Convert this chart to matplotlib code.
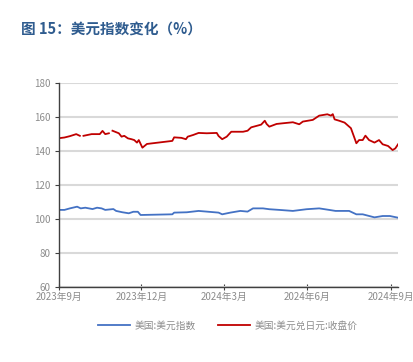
import matplotlib
matplotlib.use("Agg")
import matplotlib.pyplot as plt
import numpy as np
import pandas as pd

plt.rcParams['font.family'] = ['Noto Sans CJK SC', 'DejaVu Sans']

# 美元兑日元 (NaN = missing points, drawn as gaps)
jpy_dates = ['2023-09-01', '2023-09-07', '2023-09-13', '2023-09-20', '2023-09-24', '2023-09-26',
             '2023-09-28', '2023-10-07', '2023-10-16', '2023-10-19', '2023-10-22', '2023-10-26',
             '2023-10-28', '2023-10-30', '2023-11-06', '2023-11-09', '2023-11-12', '2023-11-16',
             '2023-11-20', '2023-11-23', '2023-11-26', '2023-11-28', '2023-12-02', '2023-12-07',
             '2024-01-04', '2024-01-06', '2024-01-14', '2024-01-19', '2024-01-21', '2024-01-27',
             '2024-02-02', '2024-02-11', '2024-02-22', '2024-02-24', '2024-02-28', '2024-03-04',
             '2024-03-09', '2024-03-22', '2024-03-27', '2024-03-31', '2024-04-11', '2024-04-15',
             '2024-04-17', '2024-04-20', '2024-04-28', '2024-05-05', '2024-05-16', '2024-05-23',
             '2024-05-27', '2024-06-07', '2024-06-14', '2024-06-23', '2024-06-27', '2024-06-29',
             '2024-07-01', '2024-07-06', '2024-07-12', '2024-07-19', '2024-07-23', '2024-07-25',
             '2024-07-28', '2024-08-01', '2024-08-04', '2024-08-08', '2024-08-14', '2024-08-19',
             '2024-08-23', '2024-08-29', '2024-09-03', '2024-09-06', '2024-09-09']
jpy_vals = [147.6, 148.0, 148.8, 150.0, 149.0, np.nan,
            149.0, 150.0, 150.0, 151.9, 150.0, 150.5,
            np.nan, 152.0, 150.5, 148.5, 149.0, 147.5,
            147.0, 146.5, 145.0, 146.5, 142.0, 144.2,
            146.0, 148.1, 147.8, 147.0, 148.5, 149.5,
            150.7, 150.5, 150.7, 148.9, 147.0, 148.5,
            151.4, 151.4, 152.0, 154.0, 155.6, 157.9,
            156.0, 154.4, 156.0, 156.4, 157.0, 155.8,
            157.4, 158.4, 160.9, 161.7, 160.9, 161.8,
            158.7, 157.9, 156.8, 153.5, 147.6, 144.6,
            146.5, 146.5, 149.1, 146.5, 145.0, 146.5,
            144.0, 143.0, 140.6, 141.6, 144.0]

# 美元指数
dxy_dates = ['2023-09-01', '2023-09-07', '2023-09-13', '2023-09-21', '2023-09-25', '2023-09-30',
             '2023-10-08', '2023-10-13', '2023-10-18', '2023-10-22', '2023-10-31', '2023-11-03',
             '2023-11-10', '2023-11-17', '2023-11-22', '2023-11-27', '2023-11-30', '2024-01-04',
             '2024-01-06', '2024-01-20', '2024-02-02', '2024-02-13', '2024-02-24', '2024-02-28',
             '2024-03-08', '2024-03-19', '2024-03-27', '2024-04-02', '2024-04-13', '2024-04-20',
             '2024-05-01', '2024-05-16', '2024-05-31', '2024-06-14', '2024-06-25', '2024-07-02',
             '2024-07-17', '2024-07-25', '2024-08-01', '2024-08-14', '2024-08-23', '2024-08-31',
             '2024-09-09']
dxy_vals = [105.3, 105.3, 106.2, 107.2, 106.2, 106.6,
            105.8, 106.6, 106.2, 105.3, 105.8, 104.7,
            103.9, 103.3, 104.2, 104.2, 102.3, 102.7,
            103.7, 103.9, 104.7, 104.2, 103.7, 102.7,
            103.7, 104.7, 104.3, 106.2, 106.2, 105.7,
            105.3, 104.7, 105.7, 106.2, 105.3, 104.7,
            104.7, 102.7, 102.7, 100.9, 101.7, 101.7,
            100.7]

xticks = ['2023-09-01', '2023-12-01', '2024-03-01', '2024-06-01', '2024-09-01']
xlabels = ['2023年9月', '2023年12月', '2024年3月', '2024年6月', '2024年9月']

fig = plt.figure(figsize=(4.14, 3.62), dpi=100)
ax = fig.add_axes([0.1425, 0.208, 0.819, 0.562])

ax.plot(pd.to_datetime(dxy_dates), dxy_vals, color='#4472C4', lw=1.3, label='美国:美元指数')
ax.plot(pd.to_datetime(jpy_dates), jpy_vals, color='#C00000', lw=1.3, label='美国:美元兑日元:收盘价')

ax.set_ylim(60, 180)
ax.set_yticks(range(60, 181, 20))
ax.set_xlim(pd.Timestamp('2023-09-01'), pd.Timestamp('2024-09-09'))
ax.set_xticks(pd.to_datetime(xticks))
ax.set_xticklabels(xlabels)

ax.grid(axis='y', color='#D9D9D9', lw=1.5)
ax.set_axisbelow(True)
for s in ['top', 'right']:
    ax.spines[s].set_visible(False)
for s in ['left', 'bottom']:
    ax.spines[s].set_color('#404040')
    ax.spines[s].set_linewidth(1.0)
ax.tick_params(axis='y', colors='#404040', labelcolor='#8C8C8C', labelsize=7, length=3, pad=3)
ax.tick_params(axis='x', colors='#404040', labelcolor='#8C8C8C', labelsize=7, length=5,
               direction='inout', pad=1)

fig.text(0.05, 0.918, '图 15：美元指数变化（%）', color='#2F5C8F', fontsize=10.5,
         fontweight='bold', va='center')

leg = fig.legend(loc='center', bbox_to_anchor=(0.55, 0.1), ncol=2, frameon=False,
                 fontsize=7, handlelength=3.3, columnspacing=2.2, handletextpad=0.5)
for t in leg.get_texts():
    t.set_color('#8C8C8C')

fig.savefig('out.png', dpi=100)
